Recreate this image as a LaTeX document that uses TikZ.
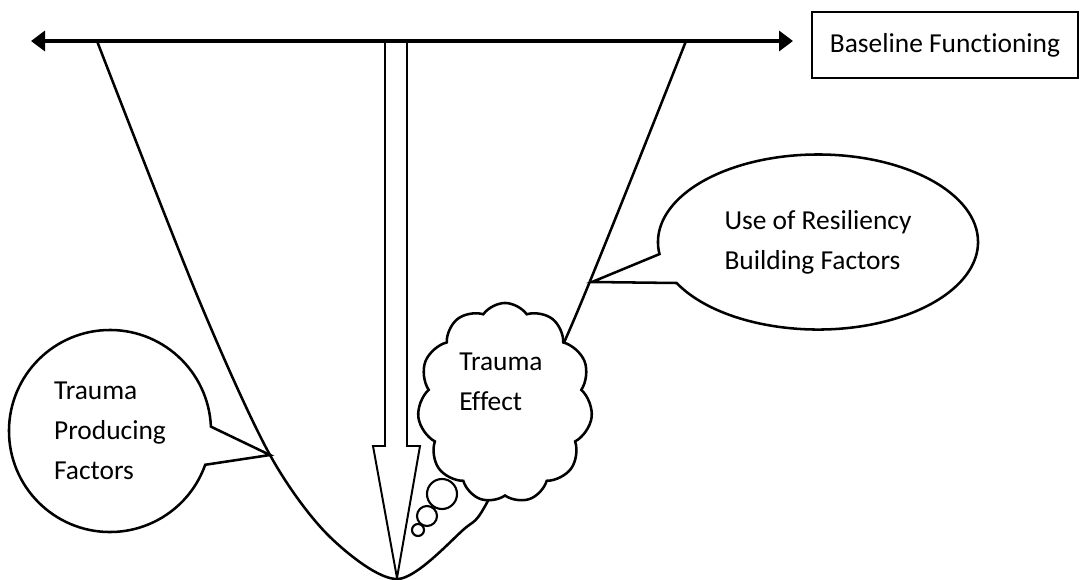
\documentclass[tikz,border=0pt]{standalone}
\usepackage{fontspec}
\setmainfont[Ligatures={NoCommon}]{Carlito}
\usetikzlibrary{shapes.symbols,shapes.callouts,arrows.meta}

\begin{document}
\begin{tikzpicture}[x=0.025cm, y=-0.025cm, every node/.style={font=\fontsize{19.5}{28.5}\selectfont}]
  \tikzset{
    outline/.style={draw, line width=1.8pt, fill=white},
    bubble/.style={outline, ellipse callout, align=left, inner sep=0pt},
    puff/.style={outline, circle, inner sep=0pt, line width=1.5pt}
  }
  \useasboundingbox (0,0) rectangle (1081,580);

  % Valley of functioning
  \draw[line width=1.8pt] plot[smooth, tension=0.5] coordinates
    {(97,41) (199,300) (270,455) (330,537) (398,579) (463,530) (490,497) (573,322) (686,41)};

  % Downward arrow
  \draw[line width=1.4pt, fill=white] (385,41) -- (385,446) -- (373,446) -- (397,578)
    -- (420,446) -- (407,446) -- (407,41);

  % Baseline
  \coordinate (west) at (31,41);
  \coordinate (east) at (793,41);
  \draw[line width=2.8pt, {Triangle[length=3.5mm,width=5mm]}-{Triangle[length=3.5mm,width=5mm]}] (west) -- (east);
  \node[draw, line width=1.8pt, minimum width=6.65cm, minimum height=1.65cm] (base) at (945,45) {Baseline Functioning};

  % Callouts
  \node[bubble, minimum width=5.05cm, minimum height=5.05cm, callout absolute pointer={(270,455)},
    callout pointer arc=22] (producing) at (110,431) {Trauma\\Producing\\Factors};
  \node[bubble, minimum width=8cm, minimum height=4.375cm, callout absolute pointer={(592,282)},
    callout pointer arc=20] (resiliency) at (818,242) {Use of Resiliency\\Building Factors};

  % Trauma effect thought cloud
  \node[outline, cloud, cloud puffs=11, cloud puff arc=110, minimum width=4.375cm,
    minimum height=5cm, inner sep=0pt] (effect) at (505,403) {};
  \node[align=left] (effect text) at (501,382) {Trauma\\Effect};
  \node[puff, minimum size=0.75cm] (puff big) at (442,494) {};
  \node[puff, minimum size=0.5cm] (puff mid) at (427,516) {};
  \node[puff, minimum size=0.3cm] (puff small) at (418,530) {};
\end{tikzpicture}
\end{document}
